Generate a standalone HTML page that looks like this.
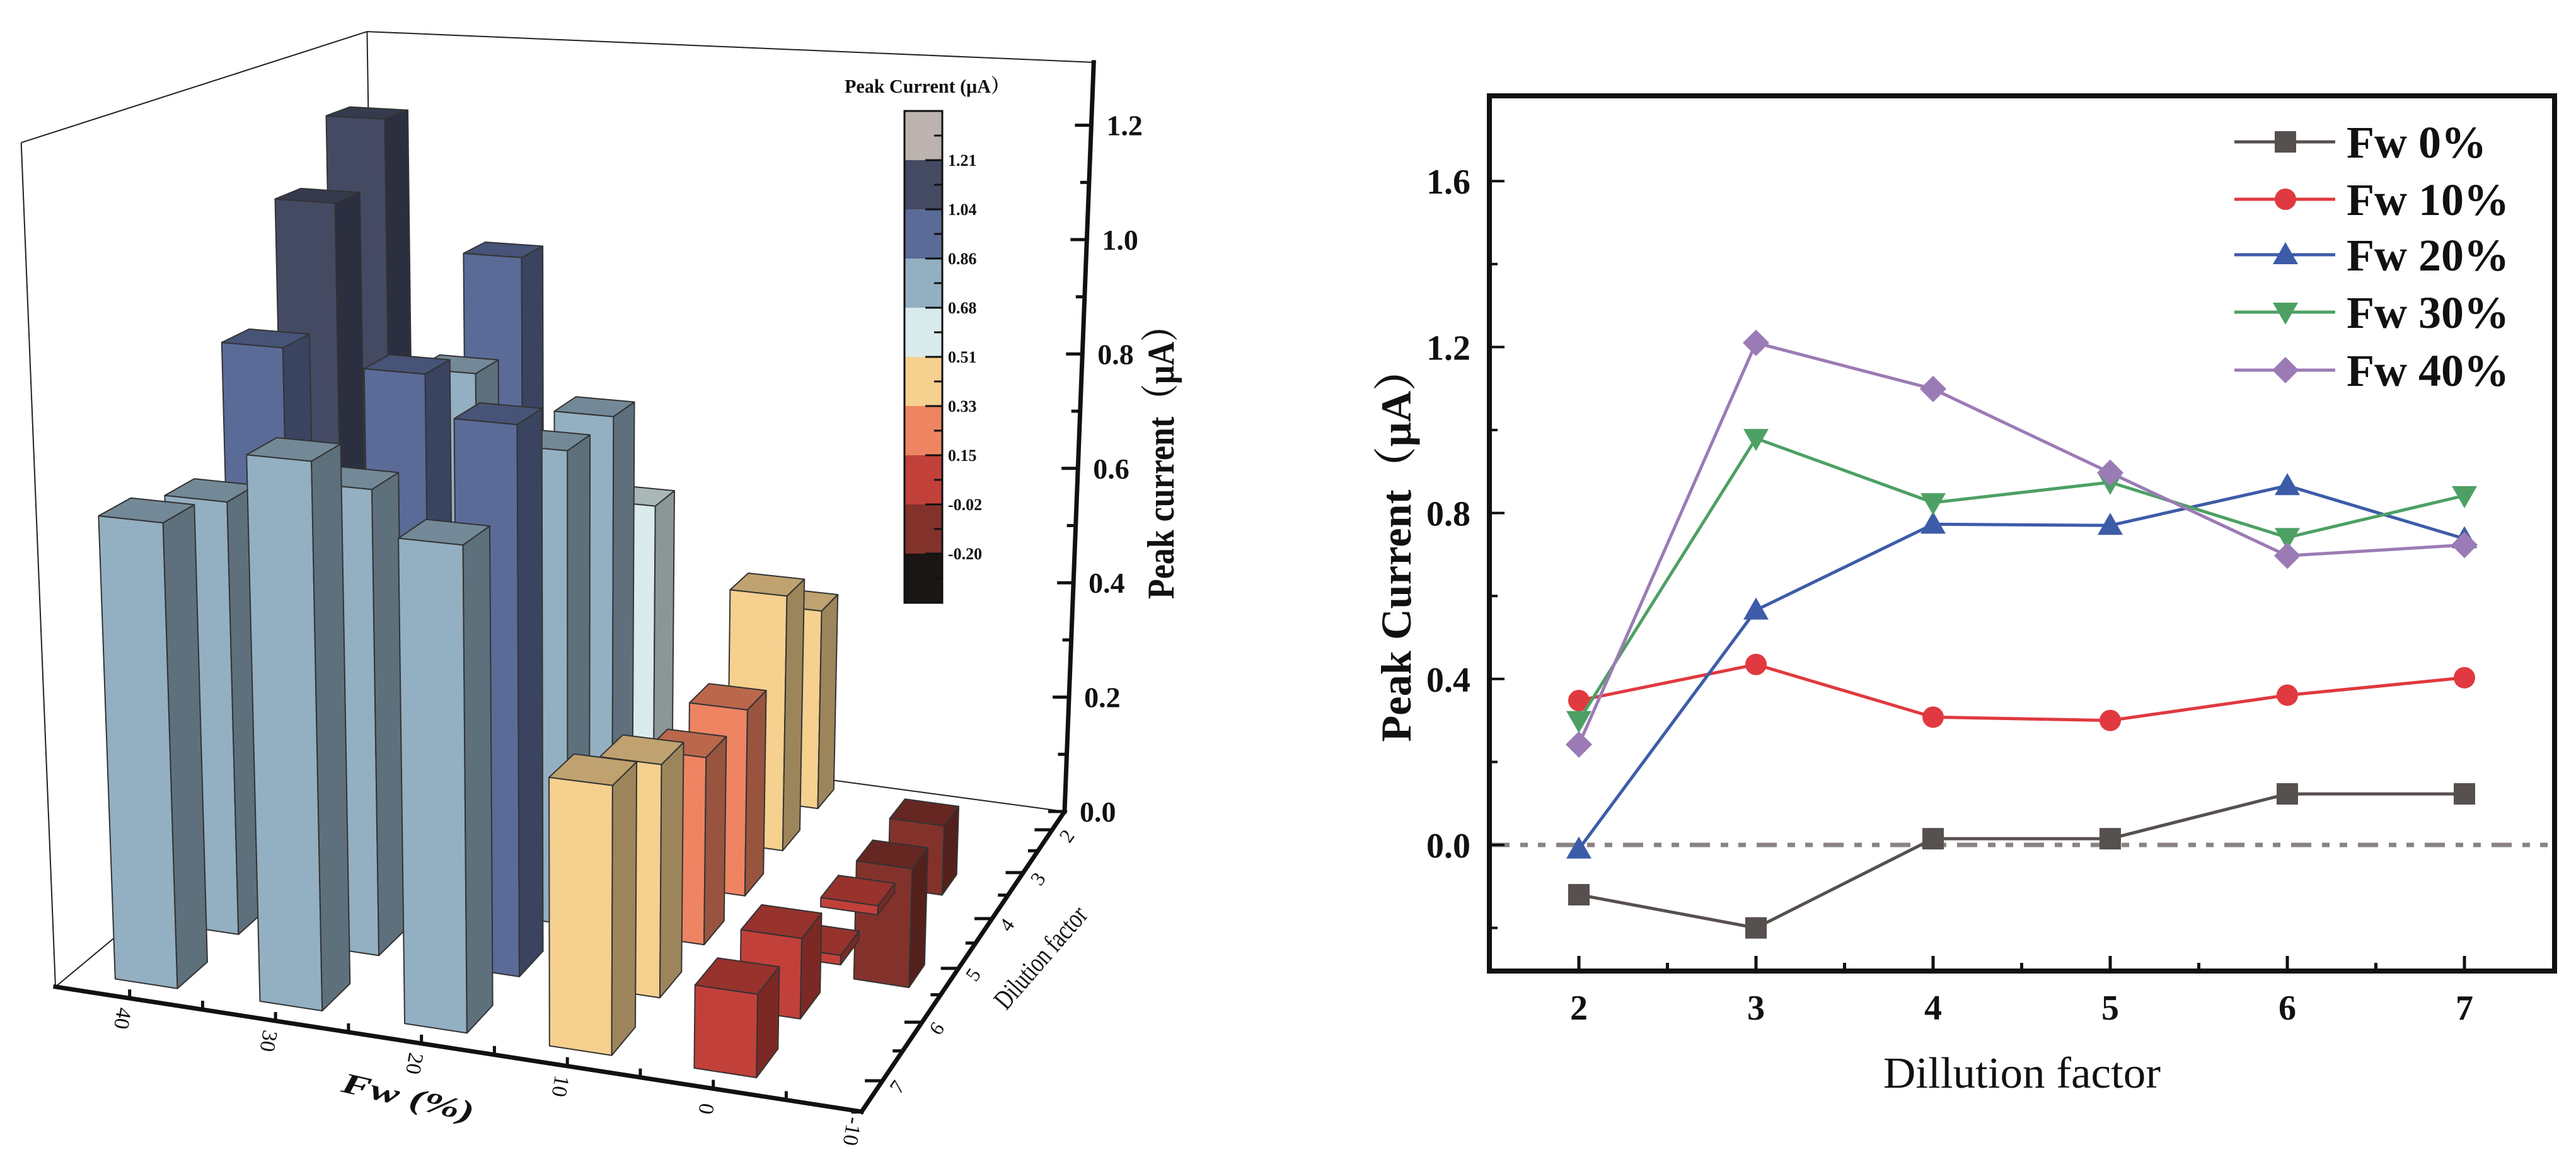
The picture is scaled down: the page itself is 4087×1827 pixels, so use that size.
<!DOCTYPE html>
<html><head><meta charset="utf-8">
<style>
html,body{margin:0;padding:0;background:#fff;}
svg{display:block;font-family:"Liberation Serif","Noto Serif CJK SC",serif;}
</style></head>
<body>
<svg id="fig" width="4087" height="1827" viewBox="0 0 4087 1827">
  <rect x="0" y="0" width="4087" height="1827" fill="#ffffff"/>
  <g id="left3d"></g>
  <g id="right"></g>
</svg>
<script>
const fwLevels=[0,10,20,30,40];
const dilutions=[2,3,4,5,6,7];
const fw0=[-0.12,-0.20,0.015,0.015,0.123,0.123];
const fw10=[0.348,0.435,0.308,0.300,0.361,0.403];
const fw20=[-0.01,0.566,0.773,0.770,0.866,0.738];
const fw30=[0.300,0.980,0.825,0.874,0.741,0.842];
const fw40=[0.242,1.210,1.099,0.897,0.697,0.723];
const seriesNames=['Fw 0%','Fw 10%','Fw 20%','Fw 30%','Fw 40%'];
const colorLevels=[-0.20,-0.02,0.15,0.33,0.51,0.68,0.86,1.04,1.21];
const zTicks=[0,0.2,0.4,0.6,0.8,1.0,1.2];
const yTicks=[0,0.4,0.8,1.2,1.6];
const fwTicks=[40,30,20,10,0,-10];

const allSeries=[fw0,fw10,fw20,fw30,fw40];
const palette=[[26,22,20],[131,50,43],[194,64,58],[238,132,98],[245,208,142],[217,235,236],[147,175,194],[91,107,152],[69,74,99],[188,179,176]];
const lineColors=['#56504e','#e0393f','#3d5ca8','#4da064','#9b7bb5'];
const markerKinds=['square','circle','tri-up','tri-down','diamond'];

const fig=document.getElementById('fig');
const NS=fig.namespaceURI;
function el(parent,tag,attrs,text){const e=document.createElementNS(NS,tag);for(const k in attrs)e.setAttribute(k,attrs[k]);if(text!==undefined)e.textContent=text;parent.appendChild(e);return e;}
function rgb(c,f){return 'rgb('+Math.round(c[0]*f)+','+Math.round(c[1]*f)+','+Math.round(c[2]*f)+')';}
function binOf(v){const n=colorLevels.length;let k=0;while(k<n&&(k===n-1?v>colorLevels[k]+1e-9:v>=colorLevels[k]-1e-9))k++;return k;}

/* ---------------- 3D bar chart ---------------- */
const L=document.getElementById('left3d');
const FL=[88,1565],FR=[1367,1763],BL=[599,1140],BR=[1689,1287];
function uOf(f){return 0.092+(40-f)*0.0181;}
function tOf(d){const x=7-d;return (0.103+0.2078*x)/(1+0.0432*x);}
function floorPt(u,t){const fx=FL[0]+(FR[0]-FL[0])*u,fy=FL[1]+(FR[1]-FL[1])*u;const bx=BL[0]+(BR[0]-BL[0])*u,by=BL[1]+(BR[1]-BL[1])*u;return [fx+(bx-fx)*t,fy+(by-fy)*t];}
function hScale(u,t){return 1022+75*u-190*t;}
function proj(u,t,z){const p=floorPt(u,t);const h=z*hScale(u,t);return [p[0]+(p[0]-905)*4.97e-5*h,p[1]-h];}
function pts(a){return a.map(p=>p[0].toFixed(1)+','+p[1].toFixed(1)).join(' ');}
const zMax=1.31;

const frameSegs=[[proj(0,0,0),proj(0,0,zMax)],[proj(0,1,0),proj(0,1,zMax)],[proj(0,0,zMax),proj(0,1,zMax)],[proj(0,1,zMax),proj(1,1,zMax)],[proj(0,0,0),proj(0,1,0)],[proj(0,1,0),proj(1,1,0)]];
frameSegs.forEach(s=>{
  const ln=el(L,'line',{x1:s[0][0],y1:s[0][1],x2:s[1][0],y2:s[1][1],stroke:'#222',"stroke-width":2});
  
  
});

const bars=[];
fwLevels.forEach((f,i)=>dilutions.forEach((d,j)=>bars.push({f:f,d:d,v:allSeries[i][j]})));
bars.sort((a,b)=>(tOf(b.d)-tOf(a.d))||(uOf(b.f)-uOf(a.f)));
const hw=2.15,hd=0.24;
bars.forEach(b=>{
  const u0=uOf(b.f+hw),u1=uOf(b.f-hw),t0=tOf(b.d+hd),t1=tOf(b.d-hd);
  const zt=Math.max(b.v,0),zb=Math.min(b.v,0);
  const c=palette[binOf(b.v)];
  const g=el(L,'g',{});
  
  
  const front=el(g,'polygon',{points:pts([proj(u0,t0,zb),proj(u1,t0,zb),proj(u1,t0,zt),proj(u0,t0,zt)]),fill:rgb(c,1),stroke:'#333',"stroke-width":2,"stroke-linejoin":'round'});
  
  
  const side=el(g,'polygon',{points:pts([proj(u1,t0,zb),proj(u1,t1,zb),proj(u1,t1,zt),proj(u1,t0,zt)]),fill:rgb(c,0.64),stroke:'#333',"stroke-width":2,"stroke-linejoin":'round'});
  
  
  const top=el(g,'polygon',{points:pts([proj(u0,t0,zt),proj(u1,t0,zt),proj(u1,t1,zt),proj(u0,t1,zt)]),fill:rgb(c,0.78),stroke:'#333',"stroke-width":2,"stroke-linejoin":'round'});
  
  
});

const axSegs=[[proj(0,0,0),proj(1,0,0),'fw-axis'],[proj(1,0,0),proj(1,1,0),'dilution-axis'],[proj(1,1,0),proj(1,1,zMax),'z-axis']];
axSegs.forEach(s=>{
  const ln=el(L,'line',{x1:s[0][0],y1:s[0][1],x2:s[1][0],y2:s[1][1],stroke:'#111',"stroke-width":7,"stroke-linecap":'square'});
  
  
});
for(let k=0;k<=12;k++){
  const v=k/10;const p=proj(1,1,v);const len=(k%2===0)?26:14;
  const tk=el(L,'line',{x1:p[0]-len,y1:p[1],x2:p[0],y2:p[1],stroke:'#111',"stroke-width":5});
  
  
}
zTicks.forEach(v=>{
  const p=proj(1,1,v);
  const tx=el(L,'text',{x:p[0]+24,y:p[1]+16,"font-size":46,"font-weight":'bold',fill:'#111'},v.toFixed(1));
  
  
});
const zt=el(L,'text',{x:0,y:0,transform:'translate(1862,720) rotate(-90)',"text-anchor":'middle',"font-size":60,"font-weight":'bold',fill:'#111',textLength:460,lengthAdjust:'spacingAndGlyphs'},'Peak current（μA）');



for(let f=40;f>=-5;f-=5){
  const p=proj(uOf(f),0,0);
  const tk=el(L,'line',{x1:p[0],y1:p[1],x2:p[0],y2:p[1]-14,stroke:'#111',"stroke-width":5});
  
  
}
fwTicks.forEach(f=>{
  const p=proj(Math.min(uOf(f),1),0,0);
  const tx=el(L,'text',{x:0,y:0,transform:'translate('+(p[0]-22).toFixed(1)+','+(p[1]+30).toFixed(1)+') rotate(100)',"text-anchor":'middle',"font-size":34,fill:'#111'},String(f));
  
  
});
const ft=el(L,'text',{x:0,y:0,transform:'translate(644,1755) rotate(13)',"text-anchor":'middle',"font-size":46,"font-weight":'bold',"font-style":'italic',fill:'#111',textLength:214,lengthAdjust:'spacingAndGlyphs'},'Fw (%)');



for(let d=7.5;d>=2;d-=0.5){
  const p=proj(1,tOf(d),0);const len=(d%1===0)?28:16;
  const tk=el(L,'line',{x1:p[0]-len,y1:p[1],x2:p[0],y2:p[1],stroke:'#111',"stroke-width":5});
  
  
}
dilutions.forEach(d=>{
  const p=proj(1,tOf(d),0);
  const tx=el(L,'text',{x:0,y:0,transform:'translate('+(p[0]+32).toFixed(1)+','+(p[1]+16).toFixed(1)+') rotate(-55)',"text-anchor":'middle',"font-size":32,fill:'#111'},String(d));
  
  
});
const dt=el(L,'text',{x:0,y:0,transform:'translate(1662,1528) rotate(-49)',"text-anchor":'middle',"font-size":44,fill:'#111',textLength:200,lengthAdjust:'spacingAndGlyphs'},'Dilution factor');



const cbTop=176,cbBin=78,cbX=1435,cbW=60,nb=palette.length;
palette.forEach((c,k)=>{
  const y=cbTop+(nb-1-k)*cbBin;
  const r=el(L,'rect',{x:cbX,y:y,width:cbW,height:cbBin,fill:rgb(c,1)});
  
  
  const mt=el(L,'line',{x1:cbX+cbW-13,y1:y+cbBin/2,x2:cbX+cbW,y2:y+cbBin/2,stroke:'#111',"stroke-width":3});
  
  
});
colorLevels.forEach((v,k)=>{
  const y=cbTop+(nb-1-k)*cbBin;
  const tk=el(L,'line',{x1:cbX+cbW-27,y1:y,x2:cbX+cbW,y2:y,stroke:'#111',"stroke-width":3});
  
  
  const tx=el(L,'text',{x:1504,y:y+9,"font-size":26,"font-weight":'bold',fill:'#111'},v.toFixed(2));
  
  
});
const cbo=el(L,'rect',{x:cbX,y:cbTop,width:cbW,height:cbBin*nb,fill:'none',stroke:'#111',"stroke-width":3});


const cbt=el(L,'text',{x:1340,y:147,"font-size":31,"font-weight":'bold',fill:'#111',textLength:262,lengthAdjust:'spacingAndGlyphs'},'Peak Current (μA）');



/* ---------------- 2D line chart ---------------- */
const R=document.getElementById('right');
const PX0=2363,PX1=4053,PY0=152,PY1=1540;
function xS(d){return 2505+(d-2)*281;}
function yS(v){return 1340-v*658;}
const zl=el(R,'line',{x1:PX0,y1:yS(0),x2:PX1,y2:yS(0),stroke:'#8a8282',"stroke-width":7,"stroke-dasharray":'32 17 12 16 12 17'});


for(let k=-1;k<=8;k++){
  const v=k*0.2;const len=(k%2===0)?24:13;
  const tk=el(R,'line',{x1:PX0,y1:yS(v),x2:PX0+len,y2:yS(v),stroke:'#111',"stroke-width":4});
  
  
}
yTicks.forEach(v=>{
  const tx=el(R,'text',{x:2333,y:yS(v)+20,"text-anchor":'end',"font-size":56,"font-weight":'bold',fill:'#111'},v.toFixed(1));
  
  
});
for(let d=2;d<=7;d+=0.5){
  const len=(d%1===0)?24:13;
  const tk=el(R,'line',{x1:xS(d),y1:PY1,x2:xS(d),y2:PY1-len,stroke:'#111',"stroke-width":5});
  
  
}
dilutions.forEach(d=>{
  const tx=el(R,'text',{x:xS(d),y:1617,"text-anchor":'middle',"font-size":56,"font-weight":'bold',fill:'#111'},String(d));
  
  
});
const xt=el(R,'text',{x:3208,y:1725,"text-anchor":'middle',"font-size":70,fill:'#111',textLength:440,lengthAdjust:'spacingAndGlyphs'},'Dillution factor');


const yt=el(R,'text',{x:0,y:0,transform:'translate(2238,864) rotate(-90)',"text-anchor":'middle',"font-size":68,"font-weight":'bold',fill:'#111',textLength:625,lengthAdjust:'spacingAndGlyphs'},'Peak Current（μA）');



function marker(parent,kind,x,y,color){
  let m;
  if(kind==='square')m=el(parent,'rect',{x:x-17,y:y-17,width:34,height:34,fill:color});
  else if(kind==='circle')m=el(parent,'circle',{cx:x,cy:y,r:17,fill:color});
  else if(kind==='tri-up')m=el(parent,'polygon',{points:pts([[x,y-20],[x+20,y+15],[x-20,y+15]]),fill:color});
  else if(kind==='tri-down')m=el(parent,'polygon',{points:pts([[x,y+20],[x+20,y-15],[x-20,y-15]]),fill:color});
  else m=el(parent,'polygon',{points:pts([[x,y-21],[x+21,y],[x,y+21],[x-21,y]]),fill:color});
  return m;
}
allSeries.forEach((s,i)=>{
  const g=el(R,'g',{});
  
  
  const pl=el(g,'polyline',{points:pts(s.map((v,j)=>[xS(dilutions[j]),yS(v)])),fill:'none',stroke:lineColors[i],"stroke-width":5});
  
  
  s.forEach((v,j)=>{
    const m=marker(g,markerKinds[i],xS(dilutions[j]),yS(v),lineColors[i]);
    
    
  });
});
const fr=el(R,'rect',{x:PX0,y:PY0,width:PX1-PX0,height:PY1-PY0,fill:'none',stroke:'#111',"stroke-width":8});


const legRows=[225,316,404,495,587];
seriesNames.forEach((n,i)=>{
  const g=el(R,'g',{});
  
  
  const ln=el(g,'line',{x1:3545,y1:legRows[i],x2:3705,y2:legRows[i],stroke:lineColors[i],"stroke-width":5});
  
  
  const m=marker(g,markerKinds[i],3626,legRows[i],lineColors[i]);
  
  
  const tx=el(g,'text',{x:3723,y:legRows[i]+25,"font-size":72,"font-weight":'bold',fill:'#111'},n);
  
  
});
</script>
</body></html>
